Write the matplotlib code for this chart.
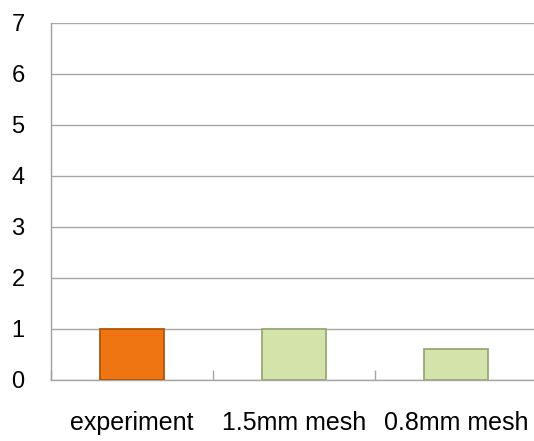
import matplotlib
matplotlib.use("Agg")
import matplotlib.pyplot as plt
import numpy as np

categories = ["experiment", "1.5mm mesh", "0.8mm mesh"]
values = [1.0, 1.0, 0.6]
yticks = [0, 1, 2, 3, 4, 5, 6, 7]

plt.rcParams['font.family'] = ['Liberation Sans', 'DejaVu Sans']

W, H = 534, 441
fig = plt.figure(figsize=(W / 100, H / 100), dpi=100)
ax = fig.add_axes([51 / W, (H - 380) / H, 486 / W, 357.5 / H])

face = ["#EF7412", "#D3E3A9", "#D3E3A9"]
edge = ["#B0560B", "#98A876", "#98A876"]
x = np.arange(len(categories))
ax.bar(x, values, width=0.4, color=face, edgecolor=edge, linewidth=1.3, zorder=3)

ax.set_xlim(-0.5, len(categories) - 0.5)
ax.set_ylim(0, 7)
ax.set_yticks(yticks)
ax.set_yticklabels([str(v) for v in yticks])
ax.set_xticks(x)
ax.set_xticklabels(categories)
ax.set_xticks(np.arange(len(categories) + 1) - 0.5, minor=True)

ax.grid(axis='y', color='#A6A6A6', linewidth=1.0, zorder=0)
ax.set_axisbelow(True)
for s in ['top', 'right']:
    ax.spines[s].set_visible(False)
ax.spines['left'].set_color('#A0A0A0')
ax.spines['bottom'].set_color('#A6A6A6')
ax.spines['left'].set_linewidth(1.0)
ax.spines['bottom'].set_linewidth(1.0)

ax.tick_params(axis='y', length=0, pad=19, labelsize=17, labelcolor='#000000')
ax.tick_params(axis='x', which='major', length=0, pad=22, labelsize=18)
ax.tick_params(axis='x', which='minor', direction='in', length=7, color='#A6A6A6', width=1.0)

fig.savefig("out.png", dpi=100, facecolor='white')
